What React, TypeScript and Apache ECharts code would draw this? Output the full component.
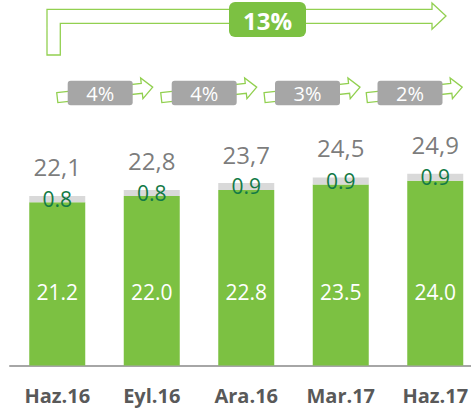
import React, { useEffect, useRef } from "react";
import * as echarts from "echarts";

const categories = ["Haz.16", "Eyl.16", "Ara.16", "Mar.17", "Haz.17"];
const baseValues = [21.2, 22.0, 22.8, 23.5, 24.0];
const topValues = [0.8, 0.8, 0.9, 0.9, 0.9];
const totals = [22.1, 22.8, 23.7, 24.5, 24.9];
const periodGrowth = ["4%", "4%", "3%", "2%"];
const overallGrowth = "13%";

const GREEN = "#7CC142";
const ARROW = "#92D050";
const GREY_TOP = "#D9D9D9";
const DARK = "#595959";
const FONT = "'Open Sans', 'DejaVu Sans', sans-serif";

function smallArrow(cx: number, cy: number) {
  return {
    type: "polygon",
    x: cx,
    y: cy,
    rotation: 0.11,
    shape: {
      points: [
        [-48, -5],
        [37, -5],
        [37, -10.5],
        [48, 0],
        [37, 10.5],
        [37, 5],
        [-48, 5],
      ],
    },
    style: { fill: "#ffffff", stroke: ARROW, lineWidth: 1.3 },
    z: 10,
  };
}

export default function App() {
  const ref = useRef<HTMLDivElement>(null);
  useEffect(() => {
    if (!ref.current) return;
    const chart = echarts.init(ref.current, undefined, { renderer: "svg" });

    const arrowCenters = [105, 209, 312.3, 414.5];
    const boxCenters = [100.2, 204.2, 307.5, 410];
    const graphics: any[] = [
      {
        type: "polygon",
        shape: {
          points: [
            [47, 55],
            [47, 9.3],
            [432, 9.3],
            [432, 3],
            [446, 16],
            [432, 29.3],
            [432, 23.3],
            [60.3, 23.3],
            [60.3, 55],
          ],
        },
        style: { fill: "#ffffff", stroke: ARROW, lineWidth: 1.3 },
        z: 10,
      },
      {
        type: "rect",
        shape: { x: 229, y: 2, width: 77, height: 35, r: 6 },
        style: { fill: GREEN },
        z: 11,
      },
      {
        type: "text",
        x: 267.5,
        y: 20,
        style: {
          text: overallGrowth,
          fill: "#ffffff",
          font: `bold 24px ${FONT}`,
          textAlign: "center",
          textVerticalAlign: "middle",
          verticalAlign: "middle",
        },
        z: 12,
      },
    ];
    periodGrowth.forEach((g, i) => {
      graphics.push(smallArrow(arrowCenters[i], 92.4));
      graphics.push({
        type: "rect",
        shape: { x: boxCenters[i] - 32.5, y: 80.7, width: 65, height: 24.6, r: 3 },
        style: { fill: "#A6A6A6" },
        z: 11,
      });
      graphics.push({
        type: "text",
        x: boxCenters[i],
        y: 93.5,
        style: {
          text: g,
          fill: "#ffffff",
          font: `20px ${FONT}`,
          textAlign: "center",
          textVerticalAlign: "middle",
          verticalAlign: "middle",
        },
        z: 12,
      });
    });

    chart.setOption({
      animation: false,
      grid: { left: 10, top: 134.5, width: 472.5, height: 231 },
      xAxis: {
        type: "category",
        data: categories,
        axisLine: { show: true, lineStyle: { color: "#A6A6A6", width: 2 } },
        axisTick: { show: false },
        axisLabel: {
          color: DARK,
          fontFamily: FONT,
          fontWeight: "bold",
          fontSize: 20,
          margin: 20,
          interval: 0,
        },
      },
      yAxis: {
        type: "value",
        min: 0,
        max: 30,
        show: false,
        splitLine: { show: false },
      },
      series: [
        {
          type: "bar",
          stack: "s",
          data: baseValues,
          barWidth: 56,
          itemStyle: { color: GREEN },
          label: {
            show: true,
            position: "insideBottom",
            distance: 63,
            color: "#ffffff",
            fontFamily: FONT,
            fontSize: 21,
            formatter: (p: any) => p.value.toFixed(1),
          },
        },
        {
          type: "bar",
          stack: "s",
          data: topValues,
          barWidth: 56,
          itemStyle: { color: GREY_TOP },
          label: {
            show: true,
            position: "inside",
            color: "#127A46",
            fontFamily: FONT,
            fontSize: 21,
            formatter: (p: any) => p.value.toFixed(1),
          },
        },
        {
          type: "scatter",
          data: totals,
          symbolSize: 0,
          itemStyle: { color: "transparent" },
          label: {
            show: true,
            position: "top",
            distance: 17,
            color: DARK,
            fontFamily: FONT,
            fontSize: 24,
            formatter: (p: any) => p.value.toFixed(1).replace(".", ","),
          },
        },
      ],
      graphic: graphics,
    });
    return () => chart.dispose();
  }, []);
  return (
    <div style={{ position: "absolute", left: 0, top: 0, width: 471, height: 413, overflow: "hidden" }}>
      <div ref={ref} style={{ width: 484, height: 413 }} />
    </div>
  );
}
